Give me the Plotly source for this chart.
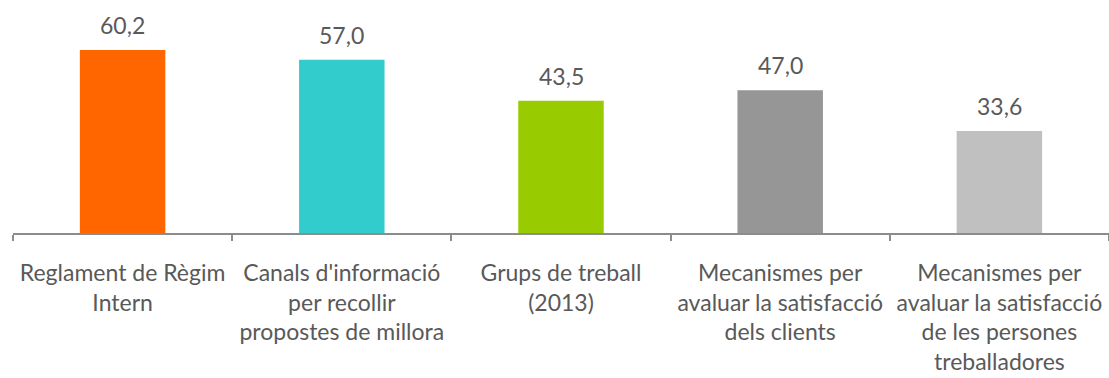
import plotly.graph_objects as go

categories = [
    "Reglament de Règim<br>Intern",
    "Canals d'informació<br>per recollir<br>propostes de millora",
    "Grups de treball<br>(2013)",
    "Mecanismes per<br>avaluar la satisfacció<br>dels clients",
    "Mecanismes per<br>avaluar la satisfacció<br>de les persones<br>treballadores",
]
values = [60.2, 57.0, 43.5, 47.0, 33.6]
value_labels = ["60,2", "57,0", "43,5", "47,0", "33,6"]
colors = ["#FF6600", "#33CCCC", "#99CC00", "#969696", "#C0C0C0"]

FONT = "Lato, Noto Sans, sans-serif"

fig = go.Figure(
    go.Bar(
        x=categories,
        y=values,
        marker=dict(color=colors, line=dict(width=0)),
        hoverinfo="x+y",
    )
)

# value labels above each bar
for cat, val, lab in zip(categories, values, value_labels):
    fig.add_annotation(
        x=cat,
        y=val,
        text=lab,
        showarrow=False,
        yanchor="bottom",
        yshift=9,
        font=dict(family=FONT, size=23, color="#595959"),
    )

fig.update_layout(
    width=1109,
    height=378,
    margin=dict(l=13, r=0, t=10, b=145),
    plot_bgcolor="white",
    paper_bgcolor="white",
    bargap=0.61,
    showlegend=False,
    xaxis=dict(
        showline=True,
        linecolor="#8C8C8C",
        linewidth=2,
        ticks="outside",
        tickson="boundaries",
        ticklen=6,
        tickwidth=1.5,
        tickcolor="#8C8C8C",
        tickangle=0,
        ticklabelstandoff=18,
        tickfont=dict(family=FONT, size=23, color="#595959"),
    ),
    yaxis=dict(range=[0, 73.4], visible=False, showgrid=False, zeroline=False),
)

fig.write_html("out.html")
